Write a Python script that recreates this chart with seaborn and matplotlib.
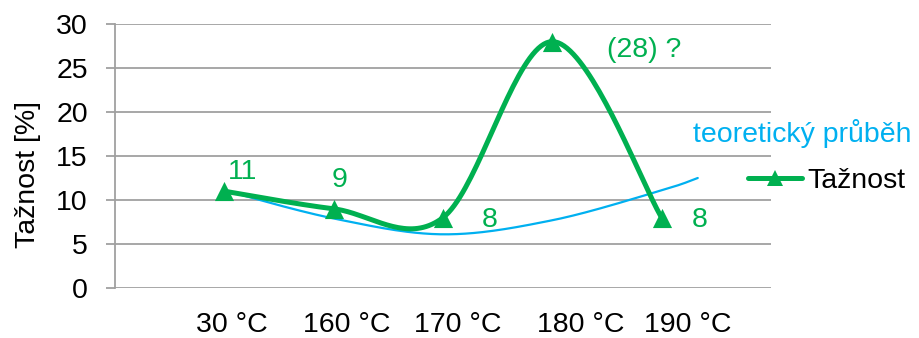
import numpy as np
import pandas as pd
import matplotlib
matplotlib.use("Agg")
import matplotlib.pyplot as plt
import seaborn as sns
from matplotlib.lines import Line2D
from matplotlib.transforms import ScaledTranslation

# --- data -------------------------------------------------------------
categories = ["30 °C", "160 °C", "170 °C", "180 °C", "190 °C"]
tiznost = [11, 9, 8, 28, 8]
label_fmt = ["{}", "{}", "{}", "({}) ?", "{}"]

# theoretical trend (category index, value)
theory_x = [1.0, 2.0, 3.0, 4.0, 5.0, 5.33]
theory_y = [11.1, 7.9, 6.1, 7.7, 11.1, 12.5]

GREEN = "#00B050"
BLUE = "#00B0F0"
GRID = "#A0A0A0"
FONT = ["Liberation Sans", "DejaVu Sans"]


def smooth(xs, ys, n=40):
    """Bezier smoothing through every point (Catmull-Rom tangents)."""
    p = np.column_stack([xs, ys]).astype(float)
    ext = np.vstack([p[0], p, p[-1]])
    out = []
    for i in range(len(p) - 1):
        p0, p1 = ext[i + 1], ext[i + 2]
        c1 = p0 + (ext[i + 2] - ext[i]) / 6.0
        c2 = p1 - (ext[i + 3] - ext[i + 1]) / 6.0
        t = np.linspace(0, 1, n)[:, None]
        seg = ((1 - t) ** 3) * p0 + 3 * ((1 - t) ** 2) * t * c1 \
            + 3 * (1 - t) * t ** 2 * c2 + t ** 3 * p1
        out.append(seg if i == 0 else seg[1:])
    return np.vstack(out)


sns.set_theme(style="white")
plt.rcParams["font.family"] = FONT
plt.rcParams["text.color"] = "black"
plt.rcParams["axes.labelcolor"] = "black"
plt.rcParams["xtick.color"] = "black"
plt.rcParams["ytick.color"] = "black"

fig = plt.figure(figsize=(9.19, 3.38), dpi=100)
ax = fig.add_axes([115 / 919, 1 - 288 / 338, (771 - 115) / 919, (288 - 24) / 338])

xpos = np.arange(1, len(categories) + 1)
df = pd.DataFrame({"x": xpos, "y": tiznost, "cat": categories})

# theoretical curve
th = smooth(theory_x, theory_y)
sns.lineplot(x=th[:, 0], y=th[:, 1], ax=ax, color=BLUE, linewidth=1.6,
             sort=False, estimator=None, zorder=3)

# measured series
sm = smooth(df["x"], df["y"])
sns.lineplot(x=sm[:, 0], y=sm[:, 1], ax=ax, color=GREEN, linewidth=3.6,
             sort=False, estimator=None, zorder=4)
sns.scatterplot(data=df, x="x", y="y", ax=ax, marker="^", s=190,
                color=GREEN, edgecolor=GREEN, linewidth=0, zorder=5)

# value labels
label_offsets = [(18, 19), (6, 29), (47, -2), (92, -8), (38, -2)]
for xi, v, fmt, off in zip(xpos, tiznost, label_fmt, label_offsets):
    ax.annotate(fmt.format(v), (xi, v), xytext=off, textcoords="offset pixels",
                ha="center", va="center", color=GREEN, fontsize=20.5)

# axes
ax.set_xlim(0, 6)
ax.set_ylim(0, 30)
ax.set_yticks(range(0, 31, 5))
ax.set_xticks(xpos)
ax.set_xticklabels(categories)
ax.set_xlabel("")
ax.set_ylabel("Tažnost [%]", fontsize=20.5, color="black")
ax.yaxis.set_label_coords(-0.113, 0.43)
ax.grid(axis="y", color=GRID, linewidth=1.3)
ax.grid(axis="x", visible=False)
for side in ["top", "right", "bottom"]:
    ax.spines[side].set_visible(False)
ax.spines["left"].set_color(GRID)
ax.spines["left"].set_linewidth(1.3)
ax.tick_params(axis="y", length=6.5, width=1.3, color=GRID, pad=13,
               labelsize=20.5, left=True, labelcolor="black")
ax.tick_params(axis="x", length=0, pad=17, labelsize=20.5, labelcolor="black")

x_label_shift = [8, 13, 15, 28, 26]
for lab, dx in zip(ax.get_xticklabels(), x_label_shift):
    lab.set_transform(lab.get_transform() + ScaledTranslation(dx / 100, 0, fig.dpi_scale_trans))

# legend and annotation text
fig.text(693 / 919, 1 - 134 / 338, "teoretický průběh", color=BLUE,
         fontsize=20.5, ha="left", va="center")
handle = Line2D([], [], color=GREEN, linewidth=3.6, marker="^",
                markersize=12, markeredgewidth=0)
fig.legend([handle], ["Tažnost"], loc="center left",
           bbox_to_anchor=(748 / 919, 1 - 181 / 338), frameon=False,
           fontsize=20.5, handlelength=1.9, handletextpad=0.2,
           borderpad=0, borderaxespad=0, labelcolor="black")

fig.savefig("out.png", dpi=100)
